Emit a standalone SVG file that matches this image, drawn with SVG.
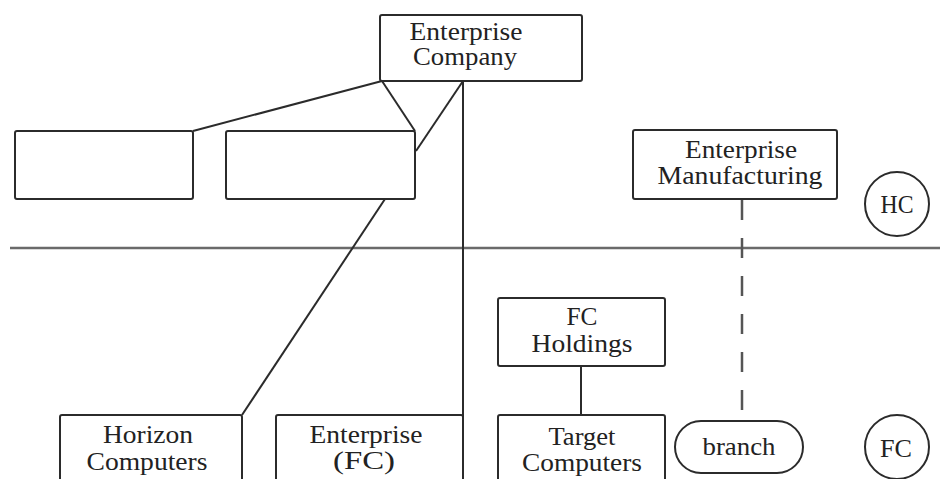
<svg xmlns="http://www.w3.org/2000/svg" width="940" height="479" viewBox="0 0 940 479">
  <style>
    .box { fill: #ffffff; stroke: #2b2b2b; stroke-width: 2; }
    .ring { fill: #ffffff; stroke: #2b2b2b; stroke-width: 2; }
    .link { fill: none; stroke: #2b2b2b; stroke-width: 2; }
    .dash { fill: none; stroke: #555555; stroke-width: 2.5; stroke-dasharray: 20 18; }
    .divider { fill: none; stroke: #6a6a6a; stroke-width: 2.6; }
    .lbl { font-family: "Liberation Serif", "Times New Roman", serif; font-size: 25px; fill: #222222; text-anchor: middle; }
  </style>
  <rect width="940" height="479" fill="#ffffff"/>

  <!-- connectors -->
  <g id="connectors">
    <line class="divider" x1="10" y1="248" x2="940" y2="248"/>
    <line class="link" x1="382" y1="81" x2="193" y2="131"/>
    <line class="link" x1="382" y1="81" x2="415" y2="131"/>
    <line class="link" x1="463" y1="81" x2="416" y2="151"/>
    <line class="link" x1="463" y1="81" x2="463" y2="479"/>
    <line class="link" x1="385" y1="199" x2="242" y2="415"/>
    <line class="link" x1="581" y1="366" x2="581" y2="415"/>
    <line class="dash" x1="742" y1="200" x2="742" y2="421"/>
  </g>

  <g id="enterprise-company">
    <rect class="box" x="380" y="15" width="202" height="66" rx="2"/>
    <text class="lbl" x="466" y="40" textLength="113" lengthAdjust="spacingAndGlyphs">Enterprise</text>
    <text class="lbl" x="465" y="65" textLength="104" lengthAdjust="spacingAndGlyphs">Company</text>
  </g>

  <g id="blank-left">
    <rect class="box" x="15" y="131" width="178" height="68" rx="2"/>
  </g>

  <g id="blank-middle">
    <rect class="box" x="226" y="131" width="189" height="68" rx="2"/>
  </g>

  <g id="enterprise-manufacturing">
    <rect class="box" x="633" y="130" width="204" height="69" rx="2"/>
    <text class="lbl" x="741" y="158" textLength="112" lengthAdjust="spacingAndGlyphs">Enterprise</text>
    <text class="lbl" x="740" y="184" textLength="165" lengthAdjust="spacingAndGlyphs">Manufacturing</text>
  </g>

  <g id="hc">
    <circle class="ring" cx="897" cy="204" r="32"/>
    <text class="lbl" x="897" y="213" textLength="33" lengthAdjust="spacingAndGlyphs">HC</text>
  </g>

  <g id="fc-holdings">
    <rect class="box" x="498" y="298" width="167" height="68" rx="2"/>
    <text class="lbl" x="582" y="325" textLength="31" lengthAdjust="spacingAndGlyphs">FC</text>
    <text class="lbl" x="582" y="352" textLength="101" lengthAdjust="spacingAndGlyphs">Holdings</text>
  </g>

  <g id="horizon-computers">
    <rect class="box" x="60" y="415" width="182" height="80" rx="2"/>
    <text class="lbl" x="148" y="443" textLength="90" lengthAdjust="spacingAndGlyphs">Horizon</text>
    <text class="lbl" x="147" y="470" textLength="121" lengthAdjust="spacingAndGlyphs">Computers</text>
  </g>

  <g id="enterprise-fc">
    <rect class="box" x="276" y="415" width="187" height="80" rx="2"/>
    <text class="lbl" x="366" y="443" textLength="113" lengthAdjust="spacingAndGlyphs">Enterprise</text>
    <text class="lbl" x="364" y="469" textLength="62" lengthAdjust="spacingAndGlyphs">(FC)</text>
  </g>

  <g id="target-computers">
    <rect class="box" x="498" y="415" width="167" height="80" rx="2"/>
    <text class="lbl" x="582" y="445" textLength="67" lengthAdjust="spacingAndGlyphs">Target</text>
    <text class="lbl" x="582" y="471" textLength="120" lengthAdjust="spacingAndGlyphs">Computers</text>
  </g>

  <g id="branch">
    <rect class="box" x="675" y="421" width="128" height="52" rx="26"/>
    <text class="lbl" x="739" y="455" textLength="73" lengthAdjust="spacingAndGlyphs">branch</text>
  </g>

  <g id="fc">
    <circle class="ring" cx="897" cy="447" r="32"/>
    <text class="lbl" x="896" y="457" textLength="32" lengthAdjust="spacingAndGlyphs">FC</text>
  </g>
</svg>
